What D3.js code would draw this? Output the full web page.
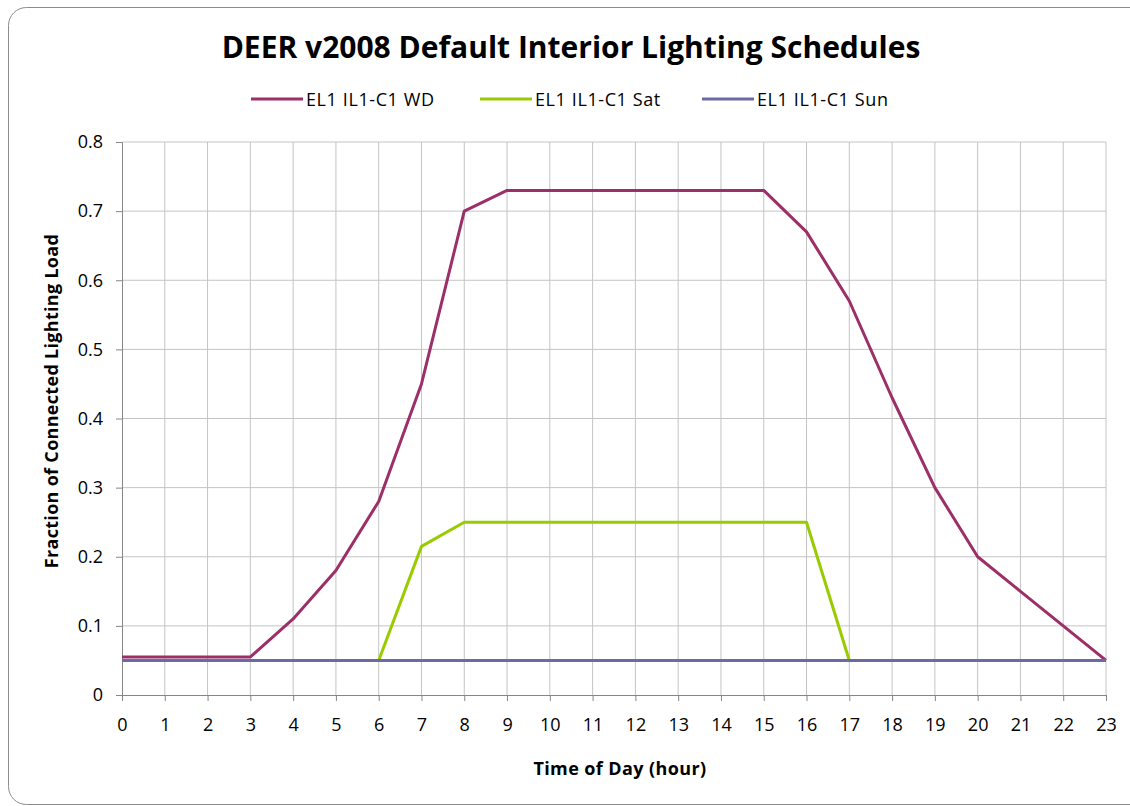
<!DOCTYPE html>
<html lang="en">
<head>
<meta charset="UTF-8">
<title>DEER v2008 Default Interior Lighting Schedules</title>
<script src="https://d3js.org/d3.v7.min.js"></script>
<style>
  body { margin: 0; background: white; }
  svg { display: block; font-family: "Open Sans", "Liberation Sans", sans-serif; }
</style>
</head>
<body>
<svg id="chart" width="1130" height="806"></svg>
<script>
// data
const hours = d3.range(0, 24);
const wdValues  = [0.055, 0.055, 0.055, 0.055, 0.11, 0.18, 0.28, 0.45, 0.70, 0.73, 0.73, 0.73,
                   0.73, 0.73, 0.73, 0.73, 0.67, 0.57, 0.43, 0.30, 0.20, 0.15, 0.10, 0.05];
const satValues = [0.05, 0.05, 0.05, 0.05, 0.05, 0.05, 0.05, 0.215, 0.25, 0.25, 0.25, 0.25,
                   0.25, 0.25, 0.25, 0.25, 0.25, 0.05, 0.05, 0.05, 0.05, 0.05, 0.05, 0.05];
const sunValues = [0.05, 0.05, 0.05, 0.05, 0.05, 0.05, 0.05, 0.05, 0.05, 0.05, 0.05, 0.05,
                   0.05, 0.05, 0.05, 0.05, 0.05, 0.05, 0.05, 0.05, 0.05, 0.05, 0.05, 0.05];
const seriesNames = ["EL1 IL1-C1 WD", "EL1 IL1-C1 Sat", "EL1 IL1-C1 Sun"];
const seriesColors = ["#9c2f68", "#99cc00", "#6a6aa4"];
const yTicks = [0, 0.1, 0.2, 0.3, 0.4, 0.5, 0.6, 0.7, 0.8];

const series = [wdValues, satValues, sunValues].map((v, i) => ({
  name: seriesNames[i], color: seriesColors[i], values: v
}));

const svg = d3.select("#chart");

// chart border
svg.append("rect")
  .attr("x", 8.5).attr("y", 7.5)
  .attr("width", 1140).attr("height", 797)
  .attr("rx", 18)
  .attr("fill", "white")
  .attr("stroke", "#8c8c8c");

const plotL = 122, plotR = 1106, plotT = 142, plotB = 695;

const x = d3.scaleLinear().domain([0, 23]).range([plotL, plotR]);
const y = d3.scaleLinear().domain([0, 0.8]).range([plotB, plotT]);

// grid
svg.append("g")
  .selectAll("line")
  .data(hours.slice(1))
  .join("line")
  .attr("x1", d => x(d)).attr("x2", d => x(d))
  .attr("y1", plotT).attr("y2", plotB)
  .attr("stroke", "#c4c4c4").attr("stroke-width", 1);

svg.append("g")
  .selectAll("line")
  .data(yTicks.slice(1))
  .join("line")
  .attr("x1", plotL).attr("x2", plotR)
  .attr("y1", d => y(d)).attr("y2", d => y(d))
  .attr("stroke", "#c4c4c4").attr("stroke-width", 1);

// axes
const xAxis = svg.append("g")
  .attr("transform", `translate(0,${plotB})`)
  .call(d3.axisBottom(x).tickValues(hours).tickSize(6).tickPadding(17).tickFormat(d3.format("d")));
const yAxis = svg.append("g")
  .attr("transform", `translate(${plotL},0)`)
  .call(d3.axisLeft(y).tickValues(yTicks).tickSize(6).tickPadding(13).tickFormat(d => d === 0 ? "0" : d3.format(".1f")(d)));

[xAxis, yAxis].forEach(a => {
  a.select(".domain").attr("stroke", "#868686");
  a.selectAll(".tick line").attr("stroke", "#868686");
  a.selectAll("text").attr("font-size", 18).attr("fill", "#000")
    .attr("font-family", "'Open Sans', sans-serif");
});

// lines
const line = d3.line().x((d, i) => x(hours[i])).y(d => y(d));
svg.append("g")
  .selectAll("path")
  .data(series)
  .join("path")
  .attr("d", d => line(d.values))
  .attr("fill", "none")
  .attr("stroke", d => d.color)
  .attr("stroke-width", 3)
  .attr("stroke-linejoin", "round");

// title
svg.append("text")
  .attr("x", 571).attr("y", 58)
  .attr("text-anchor", "middle")
  .attr("font-size", 30).attr("font-weight", "bold")
  .text("DEER v2008 Default Interior Lighting Schedules");

// legend
const legendX = [251, 480, 702];
const legend = svg.append("g")
  .selectAll("g")
  .data(series)
  .join("g")
  .attr("transform", (d, i) => `translate(${legendX[i]},99)`);
legend.append("line")
  .attr("x1", 0).attr("x2", 52)
  .attr("stroke", d => d.color).attr("stroke-width", 3);
legend.append("text")
  .attr("x", 55).attr("y", 7)
  .attr("font-size", 18)
  .attr("letter-spacing", 0.6)
  .text(d => d.name);

// axis titles
svg.append("text")
  .attr("x", 620).attr("y", 775)
  .attr("text-anchor", "middle")
  .attr("font-size", 18).attr("font-weight", "bold")
  .attr("letter-spacing", 0.4)
  .text("Time of Day (hour)");

svg.append("text")
  .attr("transform", "translate(58,401) rotate(-90)")
  .attr("text-anchor", "middle")
  .attr("font-size", 18).attr("font-weight", "bold")
  .attr("letter-spacing", 0.3)
  .text("Fraction of Connected Lighting Load");
</script>
</body>
</html>
